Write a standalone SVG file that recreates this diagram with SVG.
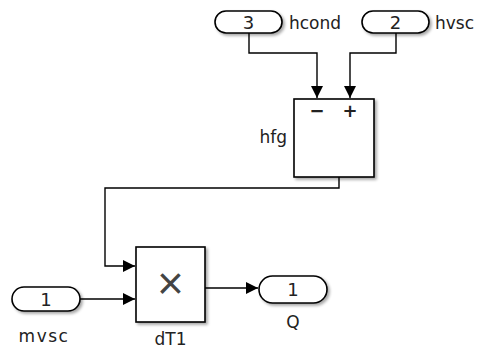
<svg xmlns="http://www.w3.org/2000/svg" width="478" height="350" viewBox="0 0 478 350">
<defs>
<marker id="arr" viewBox="0 0 10 10" refX="10" refY="5" markerWidth="12" markerHeight="12" markerUnits="userSpaceOnUse" orient="auto">
<path d="M0,0 L10,5 L0,10 Z" fill="#000"/>
</marker>
<filter id="sh" x="-20%" y="-20%" width="150%" height="150%">
<feGaussianBlur in="SourceAlpha" stdDeviation="1.5"/>
<feOffset dx="2" dy="2" result="b"/>
<feComponentTransfer><feFuncA type="linear" slope="0.35"/></feComponentTransfer>
<feMerge><feMergeNode/><feMergeNode in="SourceGraphic"/></feMerge>
</filter>
</defs>
<style>
.blk{fill:#fff;stroke:#000;stroke-width:1.6;filter:url(#sh)}
.port{fill:#fff;stroke:#000;stroke-width:1.6;filter:url(#sh)}
.t{font-family:"DejaVu Sans","Liberation Sans",sans-serif;font-size:17px;fill:#222}
.n{font-family:"DejaVu Sans","Liberation Sans",sans-serif;font-size:18px;fill:#222;text-anchor:middle}
.s{font-family:"DejaVu Sans","Liberation Sans",sans-serif;font-size:18px;font-weight:bold;fill:#222;text-anchor:middle}
.w{fill:none;stroke:#000;stroke-width:1.4;marker-end:url(#arr)}
</style>
<rect width="478" height="350" fill="#fff"/>
<g id="connectors">
<path class="w" d="M249,33 V53 H317 V98"/>
<path class="w" d="M396,33 V53 H350 V98"/>
<path class="w" d="M339,177 V188 H105 V266 H135"/>
<path class="w" d="M80,299 H135"/>
<path class="w" d="M205,288 H258"/>
</g>
<g id="in3">
<rect class="port" x="215" y="11" width="67" height="22" rx="11" ry="11"/>
<text class="n" x="248.5" y="29">3</text>
<text class="t" x="289" y="29">hcond</text>
</g>
<g id="in2">
<rect class="port" x="362" y="11" width="67" height="22" rx="11" ry="11"/>
<text class="n" x="395.5" y="29">2</text>
<text class="t" x="435" y="29">hvsc</text>
</g>
<g id="hfg">
<rect class="blk" x="294" y="99" width="80" height="78"/>
<text class="s" x="317" y="117">−</text>
<text class="s" x="350" y="117">+</text>
<text class="t" x="287" y="143" text-anchor="end">hfg</text>
</g>
<g id="in1">
<rect class="port" x="12" y="287" width="68" height="24" rx="12" ry="12"/>
<text class="n" x="46" y="306">1</text>
<text class="t" x="44" y="342" text-anchor="middle" letter-spacing="1.5">mvsc</text>
</g>
<g id="dT1">
<rect class="blk" x="136" y="247" width="69" height="75"/>
<text class="n" x="170.5" y="299" style="font-size:46px;font-family:'Liberation Sans',sans-serif;fill:#444">×</text>
<text class="t" x="170.5" y="345" text-anchor="middle">dT1</text>
</g>
<g id="outQ">
<rect class="port" x="259" y="276" width="68" height="27" rx="13.5" ry="13.5"/>
<text class="n" x="293" y="296">1</text>
<text class="t" x="293" y="328" text-anchor="middle">Q</text>
</g>
</svg>
